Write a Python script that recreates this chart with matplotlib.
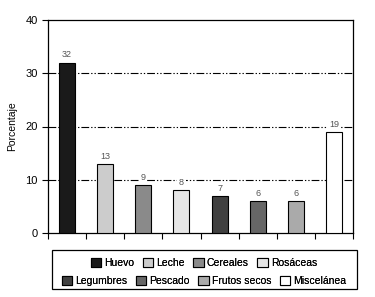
import matplotlib.pyplot as plt
from matplotlib.patches import Patch, Rectangle

plt.rcParams["font.family"] = ["Liberation Sans", "DejaVu Sans"]

categorias = ["Huevo", "Leche", "Cereales", "Rosáceas",
              "Legumbres", "Pescado", "Frutos secos", "Miscelánea"]
porcentajes = [32, 13, 9, 8, 7, 6, 6, 19]
colores = ["#1a1a1a", "#cccccc", "#8a8a8a", "#e6e6e6",
           "#404040", "#666666", "#aaaaaa", "#ffffff"]

fig = plt.figure(figsize=(3.75, 2.97), dpi=100)
ax = fig.add_axes([48 / 375, 1 - 233 / 297, 305 / 375, 213 / 297])

x = range(len(categorias))
ax.bar(x, porcentajes, width=0.42, color=colores, edgecolor="black",
       linewidth=0.8, zorder=3)

# etiquetas de valor con fondo blanco que corta la rejilla
for i, v in enumerate(porcentajes):
    ax.text(i, v + 0.6, str(v), ha="center", va="bottom", fontsize=6.5,
            color="#555555", zorder=4,
            bbox=dict(facecolor="white", edgecolor="none", pad=1.2))

for yv in (10, 20, 30):
    ax.axhline(yv, color="black", linewidth=0.8,
               linestyle=(0, (7, 1.8, 1.2, 1.8, 1.2, 1.8)), zorder=1)

ax.set_xlim(-0.5, len(categorias) - 0.5)
ax.set_ylim(0, 40)
ax.set_yticks([0, 10, 20, 30, 40])
ax.set_xticks([i - 0.5 for i in range(len(categorias) + 1)])
ax.set_xticklabels([])
ax.tick_params(axis="both", direction="out", length=4, width=0.8, labelsize=8)
ax.set_ylabel("Porcentaje", fontsize=7.5, labelpad=6)
for s in ax.spines.values():
    s.set_linewidth(0.9)

# legend: frame drawn by hand, one centered row of 4 per legend
fig.add_artist(Rectangle((52 / 375, 1 - 289 / 297), 305 / 375, 39 / 297,
                         transform=fig.transFigure, fill=False,
                         edgecolor="black", linewidth=0.9))
for fila, yc in ((0, 263), (1, 281)):
    idx = range(fila * 4, fila * 4 + 4)
    handles = [Patch(facecolor=colores[k], edgecolor="black", linewidth=0.8) for k in idx]
    leg = fig.legend(handles, [categorias[k] for k in idx], loc="center",
                     bbox_to_anchor=(204 / 375, 1 - yc / 297), ncol=4,
                     fontsize=7.5, frameon=False,
                     handlelength=1.0, handleheight=1.0, handletextpad=0.3,
                     columnspacing=0.8, borderpad=0.0)
    fig.add_artist(leg)

fig.savefig("out.png", dpi=100)
